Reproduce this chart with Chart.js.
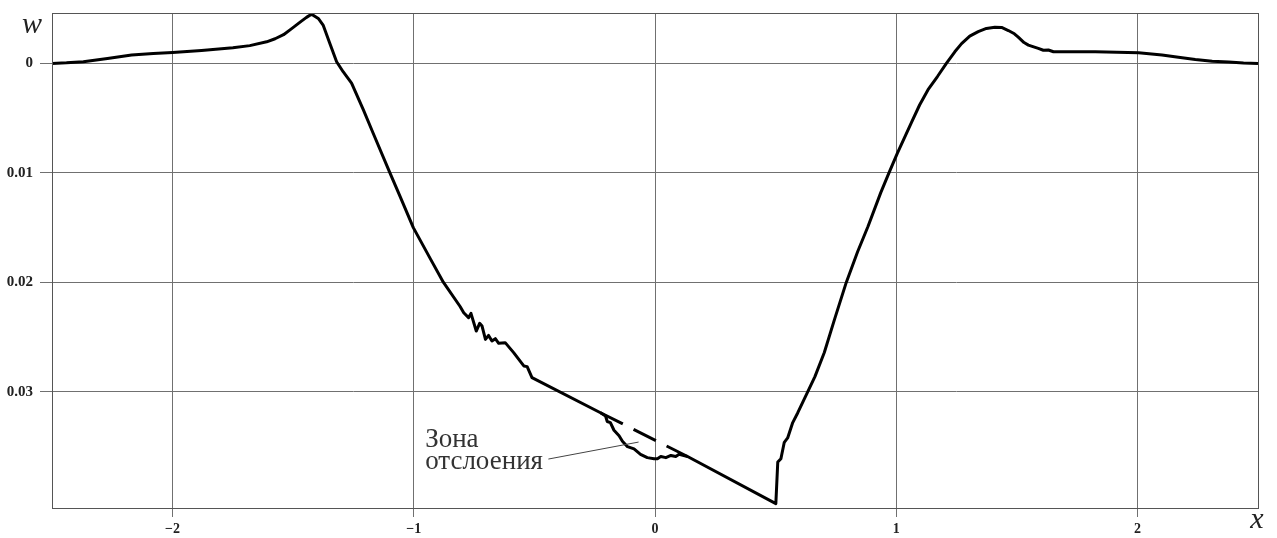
<!DOCTYPE html>
<html>
<head>
<meta charset="utf-8">
<script src="https://cdn.jsdelivr.net/npm/chart.js@4/dist/chart.umd.min.js"></script>
<style>
  html, body { margin: 0; padding: 0; background: #fff; }
  #wrap { width: 1277px; height: 538px; position: relative; }
</style>
</head>
<body>
<div id="wrap"><canvas id="c"></canvas></div>
<script>
// main deflection curve w(x)
const xMain = [
  -2.5, -2.44, -2.37, -2.27, -2.17, -2.08, -2.0, -1.88, -1.75, -1.68, -1.61, -1.575,
  -1.54, -1.505, -1.47, -1.445, -1.424, -1.396, -1.376, -1.348, -1.320, -1.293,
  -1.258, -1.209, -1.168, -1.099, -1.057, -1.002, -0.93, -0.877, -0.808,
  -0.793, -0.773, -0.763, -0.741, -0.727, -0.717, -0.703, -0.690, -0.676, -0.662,
  -0.648, -0.621, -0.586, -0.544, -0.530, -0.510, -0.226,
  -0.205, -0.198, -0.185, -0.170, -0.149, -0.135, -0.114, -0.087, -0.060, -0.032,
  -0.004, 0.010, 0.024, 0.045, 0.066, 0.086, 0.100, 0.135, 0.501,
  0.509, 0.522, 0.536, 0.550, 0.571, 0.592, 0.633, 0.663, 0.702, 0.744, 0.793, 0.840,
  0.883, 0.936, 0.970, 1.005, 1.063, 1.097, 1.132, 1.171, 1.208, 1.243, 1.271, 1.305,
  1.340, 1.374, 1.409, 1.437, 1.465, 1.490, 1.506, 1.530, 1.548, 1.589, 1.610, 1.631,
  1.652, 1.686, 1.825, 2.005, 2.102, 2.170, 2.240, 2.310, 2.379, 2.44, 2.5
];
const wMain = [
  0, -0.00005, -0.00015, -0.00045, -0.00076, -0.0009, -0.0010, -0.00118, -0.00142, -0.00162, -0.00197, -0.00225,
  -0.00262, -0.0032, -0.00379, -0.0042, -0.00449, -0.0041, -0.0035, -0.00182, -0.00015, 0.00076,
  0.0018, 0.00425, 0.0064, 0.0100, 0.01215, 0.0150, 0.0179, 0.0200, 0.0222,
  0.02277, 0.02322, 0.02283, 0.02444, 0.02374, 0.02399, 0.02520, 0.02484, 0.02535, 0.02514,
  0.02556, 0.02550, 0.02641, 0.02763, 0.02769, 0.02869, 0.0319,
  0.0322, 0.0327, 0.0328, 0.0335, 0.0340, 0.0345, 0.0350, 0.0352, 0.0357, 0.0360,
  0.0361, 0.0361, 0.0359, 0.0360, 0.0358, 0.0359, 0.0357, 0.0359, 0.0402,
  0.0364, 0.0361, 0.0346, 0.0342, 0.0328, 0.0319, 0.0300, 0.0286, 0.0264, 0.0234, 0.0200, 0.0172,
  0.0149, 0.0118, 0.0100, 0.0082, 0.0054, 0.0038, 0.0024, 0.0012, 0, -0.00106, -0.0018, -0.00249,
  -0.0029, -0.00319, -0.0033, -0.00328, -0.0030, -0.0027, -0.0024, -0.0019, -0.00167, -0.00137, -0.0012, -0.00122,
  -0.00106, -0.00106, -0.00106, -0.00097, -0.00076, -0.00056, -0.00036, -0.0002, -0.00012, -0.00004, 0
];

// straight (undetached) line across the detachment zone, drawn dashed
const xDetach = [-0.226, 0.135];
const wDetach = [0.0319, 0.0359];

const xTicks = [-2, -1, 0, 1, 2];
const wTicks = [0, 0.01, 0.02, 0.03];

// annotation "Зона отслоения": text anchor and leader line, in data units
const noteLines = ["Зона", "отслоения"];
const noteX = -0.953;
const noteW = [0.03504, 0.03704];
const leaderX = [-0.442, -0.068];
const leaderW = [0.03613, 0.03458];

const SERIF = '"Liberation Serif", "Times New Roman", serif';

const frame = {
  id: "frame",
  afterDraw(chart) {
    const { ctx, chartArea: a, scales: { x, y } } = chart;
    ctx.save();
    ctx.strokeStyle = "#555";
    ctx.lineWidth = 1;
    ctx.strokeRect(a.left + 0.5, a.top + 0.5, a.right - a.left, a.bottom - a.top);

    // note text + leader
    ctx.fillStyle = "#333";
    ctx.font = "27px " + SERIF;
    ctx.textBaseline = "alphabetic";
    ctx.textAlign = "left";
    noteLines.forEach((t, i) => ctx.fillText(t, x.getPixelForValue(noteX), y.getPixelForValue(noteW[i])));
    ctx.strokeStyle = "#444";
    ctx.lineWidth = 1;
    ctx.beginPath();
    ctx.moveTo(x.getPixelForValue(leaderX[0]), y.getPixelForValue(leaderW[0]));
    ctx.lineTo(x.getPixelForValue(leaderX[1]), y.getPixelForValue(leaderW[1]));
    ctx.stroke();

    // axis names
    ctx.fillStyle = "#222";
    ctx.font = "italic 30px " + SERIF;
    ctx.textAlign = "center";
    ctx.fillText("w", a.left - 20, a.top + 20);
    ctx.fillText("x", a.right - 1, a.bottom + 20);
    ctx.restore();
  }
};

new Chart(document.getElementById("c"), {
  type: "line",
  data: {
    datasets: [
      {
        data: xMain.map((v, i) => ({ x: v, y: wMain[i] })),
        borderColor: "#000",
        borderWidth: 3,
        borderJoinStyle: "round",
        pointRadius: 0,
        tension: 0,
        fill: false
      },
      {
        data: xDetach.map((v, i) => ({ x: v, y: wDetach[i] })),
        borderColor: "#000",
        borderWidth: 3,
        borderDash: [25, 12],
        pointRadius: 0,
        tension: 0,
        fill: false
      }
    ]
  },
  options: {
    responsive: true,
    maintainAspectRatio: false,
    animation: false,
    layout: { padding: { top: 13, right: 19, left: 0, bottom: 0 } },
    plugins: { legend: { display: false }, tooltip: { enabled: false } },
    scales: {
      x: {
        type: "linear",
        min: -2.5,
        max: 2.5,
        afterBuildTicks: s => { s.ticks = xTicks.map(v => ({ value: v })) },
        afterFit: s => { s.height = 30; s.paddingLeft = 0; s.paddingRight = 0 },
        grid: { color: "#707070", lineWidth: 1, tickLength: 9 },
        border: { display: false },
        ticks: {
          padding: 4,
          color: "#222",
          font: { family: SERIF, size: 14, weight: "bold" },
          callback: v => (v < 0 ? "\u2212" + Math.abs(v) : String(v))
        }
      },
      y: {
        reverse: true,
        min: -0.0046,
        max: 0.0406,
        afterBuildTicks: s => { s.ticks = wTicks.map(v => ({ value: v })) },
        afterFit: s => { s.width = 52; s.paddingTop = 0; s.paddingBottom = 0 },
        grid: { color: "#707070", lineWidth: 1, tickLength: 12 },
        border: { display: false },
        ticks: {
          padding: 7,
          color: "#222",
          font: { family: SERIF, size: 15, weight: "bold" },
          callback: v => String(v)
        }
      }
    }
  },
  plugins: [frame]
});
</script>
</body>
</html>
